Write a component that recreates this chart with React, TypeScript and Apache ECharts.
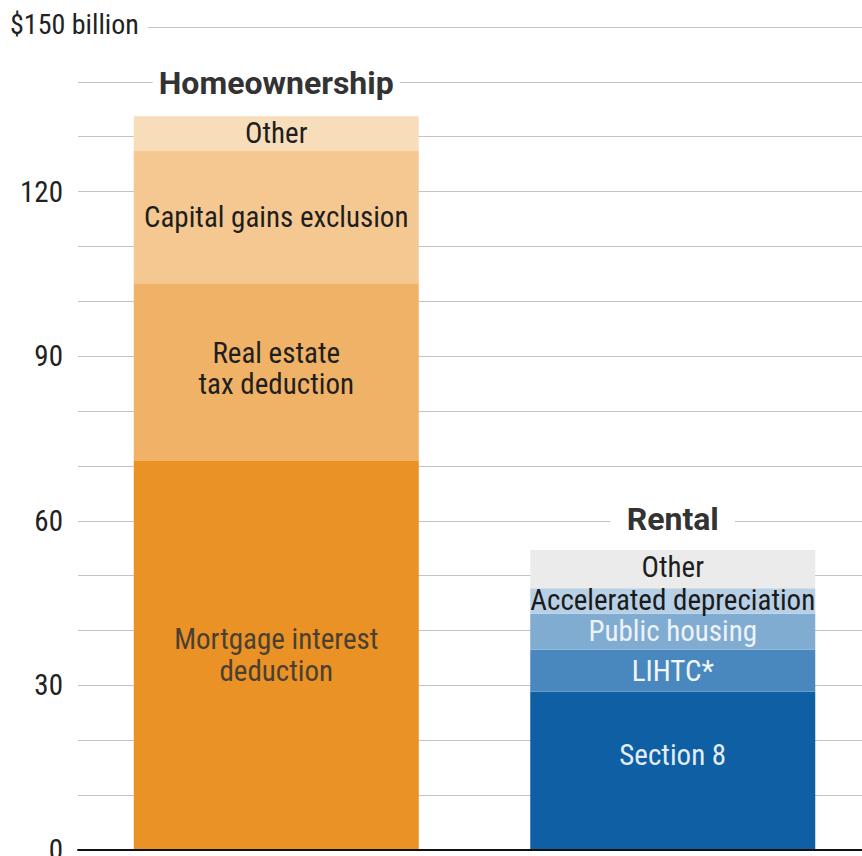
import React, { useEffect, useRef } from "react";
import * as echarts from "echarts";

const categories = ["Homeownership", "Rental"];

const homeNames = ["Mortgage interest deduction", "Real estate tax deduction", "Capital gains exclusion", "Other"];
const homeLabels = ["Mortgage interest\ndeduction", "Real estate\ntax deduction", "Capital gains exclusion", "Other"];
const homeValues = [70.9, 32.4, 24.1, 6.35];

const rentalNames = ["Section 8", "LIHTC*", "Public housing", "Accelerated depreciation", "Other"];
const rentalLabels = ["Section 8", "LIHTC*", "Public housing", "Accelerated depreciation", "Other"];
const rentalValues = [28.9, 7.6, 6.55, 4.65, 7.0];

const yTickLabels = [0, 30, 60, 90, 120];
const yTopLabel = "$150 billion";

// styles
const homeColors = ["#EA9225", "#F0B266", "#F5C891", "#F8DDBB"];
const homeTextColors = ["#4a4032", "#1e1e1e", "#1e1e1e", "#1e1e1e"];
const homeOffsets = [[0, 0], [0, -4], [0, 0], [0, -1]];
const homeLineHeights = [32, 31, 28, 28];
const rentalColors = ["#0E5FA3", "#4888BF", "#80ACD2", "#B7D0E6", "#EBEBEB"];
const rentalTextColors = ["#e4edf6", "#f2f6fa", "#eef3f9", "#1a1a1a", "#1e1e1e"];
const rentalOffsets = [[0, -16], [0, 0], [0, -1], [0, -1], [0, -2]];
const titleDistances = [17, 15];
const titlePaddings = [[0, 6], [0, 16]];

const FONT = "'Liberation Sans Narrow', 'Roboto Condensed', Roboto, sans-serif";
const BOLD_FONT = "Roboto, 'Liberation Sans', sans-serif";

export default function App() {
  const ref = useRef<HTMLDivElement>(null);

  useEffect(() => {
    document.body.style.margin = "0";
    if (!ref.current) return;
    const chart = echarts.init(ref.current, undefined, { renderer: "svg" });

    const series: any[] = [];
    homeValues.forEach((v, i) => {
      series.push({
        name: homeNames[i],
        type: "bar",
        stack: "total",
        barWidth: 285,
        data: [v, "-"],
        itemStyle: { color: homeColors[i] },
        label: {
          show: true,
          position: "inside",
          formatter: homeLabels[i],
          color: homeTextColors[i],
          fontSize: 29,
          lineHeight: homeLineHeights[i],
          fontFamily: FONT,
          offset: homeOffsets[i],
        },
      });
    });
    rentalValues.forEach((v, i) => {
      series.push({
        name: rentalNames[i],
        type: "bar",
        stack: "total",
        barWidth: 285,
        data: ["-", v],
        itemStyle: { color: rentalColors[i] },
        label: {
          show: true,
          position: "inside",
          formatter: rentalLabels[i],
          color: rentalTextColors[i],
          fontSize: 29,
          lineHeight: 28,
          fontFamily: FONT,
          offset: rentalOffsets[i],
        },
      });
    });
    series.push({
      name: "titles",
      type: "bar",
      stack: "total",
      barWidth: 285,
      itemStyle: { color: "rgba(0,0,0,0)" },
      data: categories.map((c, i) => ({
        value: 0,
        label: { distance: titleDistances[i], padding: titlePaddings[i] },
      })),
      label: {
        show: true,
        position: "top",
        formatter: "{b}",
        color: "#333333",
        fontSize: 32,
        lineHeight: 32,
        fontWeight: "bold",
        fontFamily: BOLD_FONT,
        backgroundColor: "#ffffff",
      },
    });

    chart.setOption({
      animation: false,
      grid: {
        left: 78,
        top: 27,
        width: 793,
        bottom: 6,
        containLabel: false,
        outerBoundsMode: "none",
      },
      xAxis: {
        type: "category",
        data: categories,
        axisLine: { show: true, lineStyle: { color: "#111111", width: 2 } },
        axisTick: { show: false },
        axisLabel: { show: false },
        splitLine: { show: false },
        z: 5,
      },
      yAxis: {
        type: "value",
        min: 0,
        max: 150,
        interval: 10,
        axisLine: { show: false },
        axisTick: { show: false },
        splitLine: { show: true, lineStyle: { color: "#c4c4c4", width: 1 } },
        axisLabel: {
          margin: 15,
          fontSize: 29,
          fontFamily: FONT,
          color: "#222222",
          padding: [0, 0, 7, 0],
          formatter: (v: number) => (yTickLabels.includes(v) ? String(v) : ""),
        },
      },
      graphic: [
        {
          type: "rect",
          z: 10,
          shape: { x: 0, y: 23, width: 148, height: 7 },
          style: { fill: "#ffffff" },
        },
        {
          type: "text",
          z: 11,
          x: 10,
          y: 24,
          style: {
            text: yTopLabel,
            fontSize: 28,
            fontFamily: FONT,
            fill: "#222222",
            verticalAlign: "middle",
            align: "left",
          },
        },
      ],
      series,
    });

    return () => chart.dispose();
  }, []);

  return <div ref={ref} style={{ width: 862, height: 856 }} />;
}
